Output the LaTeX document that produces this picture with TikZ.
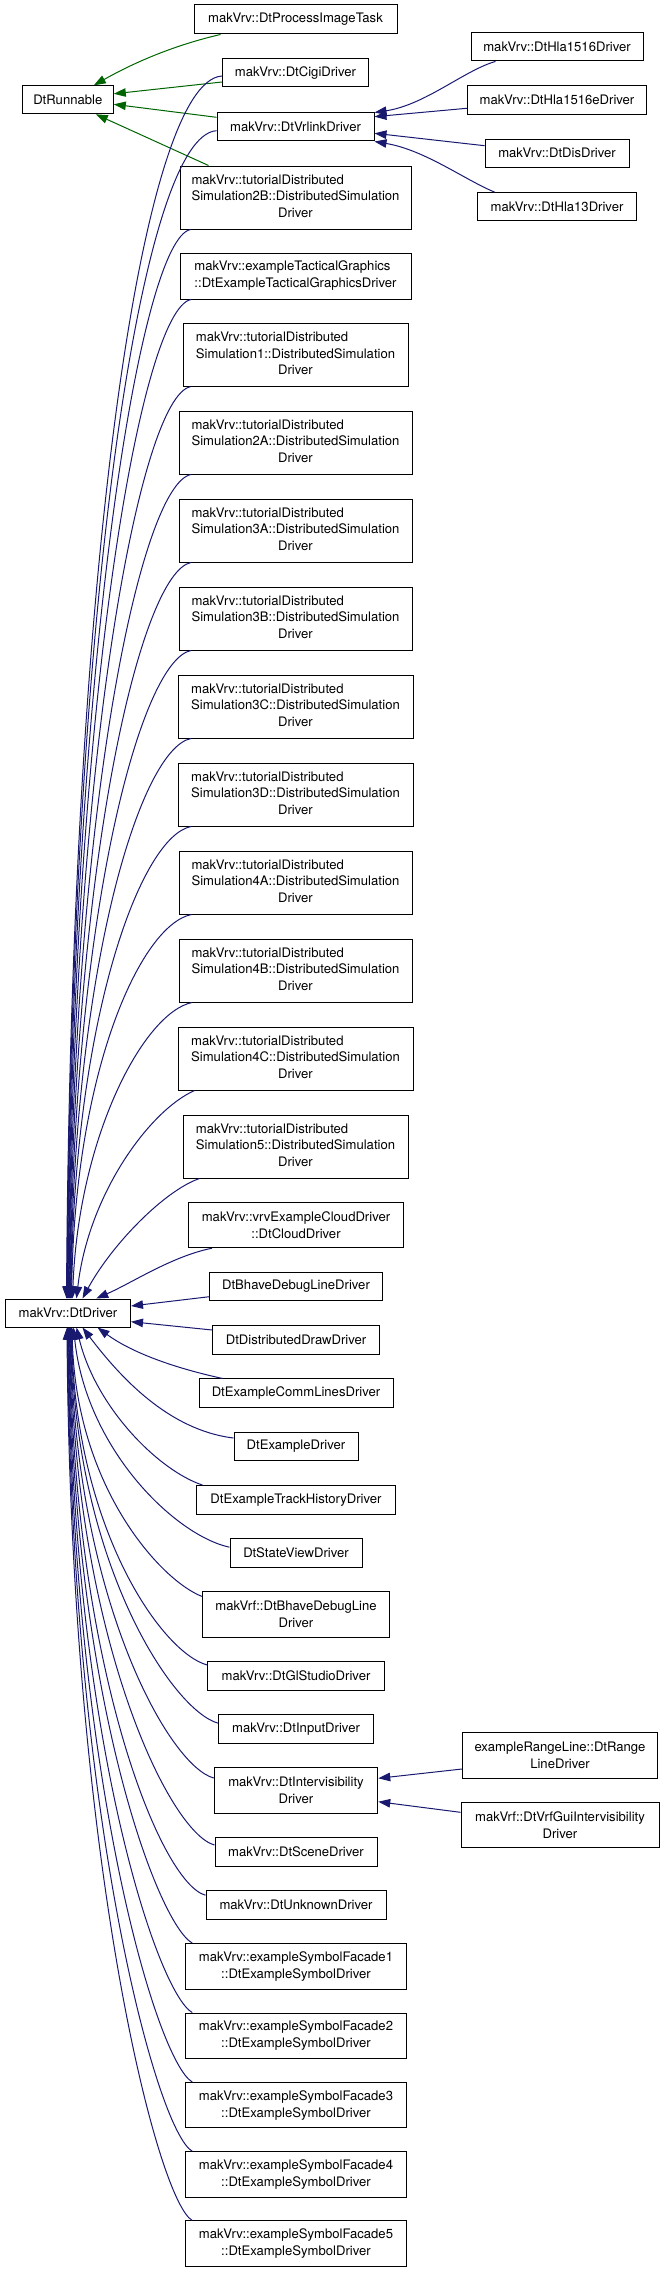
\documentclass[tikz,border=0pt]{standalone}
\usepackage{fontspec}
\setmainfont{TeX Gyre Heros}
\usetikzlibrary{arrows.meta,calc}
\definecolor{dgreen}{RGB}{0,100,0}
\definecolor{mblue}{RGB}{25,25,112}
\newcommand\tutlabel[1]{\begin{tabular}{@{}l@{}}makVrv::tutorialDistributed\\Simulation#1::DistributedSimulation\\\multicolumn{1}{@{}c@{}}{Driver}\end{tabular}}
\newcommand\dedge[5]{\draw[bedge] let \p1=#1, \p2=#2 in (\p1) .. controls ($(\p1)+(#3)$) and ({\x2+#4*(\x1-\x2)},{\y2+#5*(\y1-\y2)}) .. (\p2);}
\begin{document}
\begin{tikzpicture}[x=1pt,y=-1pt,
  box/.style={draw=black, line width=1pt, fill=white, inner sep=0pt,
    font=\fontsize{13.1}{16.8}\selectfont, align=center},
  gedge/.style={draw=dgreen, line width=1pt, -{Triangle[length=12pt,width=8.5pt]}},
  bedge/.style={draw=mblue, line width=1pt, -{Triangle[length=12pt,width=8.5pt]}}]
\useasboundingbox (0,0) rectangle (661,2272);
% left column
\node[box,minimum width=91pt,minimum height=28pt] (run) at (67.8,99.8) {DtRunnable};
\node[box,minimum width=125pt,minimum height=28pt] (drv) at (68,1313) {makVrv::DtDriver};
% middle column
\node[box,minimum width=203pt,minimum height=29pt] (pit) at (295.5,19.5) {makVrv::DtProcessImageTask};
\node[box,minimum width=146pt,minimum height=28pt] (cigi) at (295.5,73) {makVrv::DtCigiDriver};
\node[box,minimum width=157pt,minimum height=28pt] (vrl) at (295.5,127) {makVrv::DtVrlinkDriver};
\node[box,minimum width=231pt,minimum height=63pt] (t2B) at (295.5,197.5) {\tutlabel{2B}};
\node[box,minimum width=231pt,minimum height=46pt] (tac) at (295.5,276) {\begin{tabular}{@{}l@{}}makVrv::exampleTacticalGraphics\\::DtExampleTacticalGraphicsDriver\end{tabular}};
\node[box,minimum width=225pt,minimum height=63pt] (t1) at (295.5,354.7) {\tutlabel{1}};
\node[box,minimum width=233pt,minimum height=63pt] (t2A) at (295.5,442.5) {\tutlabel{2A}};
\node[box,minimum width=233pt,minimum height=63pt] (t3A) at (295.5,530.5) {\tutlabel{3A}};
\node[box,minimum width=233pt,minimum height=63pt] (t3B) at (295.5,618.5) {\tutlabel{3B}};
\node[box,minimum width=235pt,minimum height=63pt] (t3C) at (295.5,706.5) {\tutlabel{3C}};
\node[box,minimum width=235pt,minimum height=63pt] (t3D) at (295.5,794.5) {\tutlabel{3D}};
\node[box,minimum width=233pt,minimum height=63pt] (t4A) at (295.5,882.5) {\tutlabel{4A}};
\node[box,minimum width=233pt,minimum height=63pt] (t4B) at (295.5,970.5) {\tutlabel{4B}};
\node[box,minimum width=235pt,minimum height=63pt] (t4C) at (295.5,1058.5) {\tutlabel{4C}};
\node[box,minimum width=225pt,minimum height=63pt] (t5) at (295.5,1146.5) {\tutlabel{5}};
\node[box,minimum width=215pt,minimum height=45pt] (cloud) at (296,1225.2) {makVrv::vrvExampleCloudDriver\\::DtCloudDriver};
\node[box,minimum width=172.5pt,minimum height=28.5pt] (bhave) at (296,1286.3) {DtBhaveDebugLineDriver};
\node[box,minimum width=166.5pt,minimum height=28.5pt] (ddraw) at (296,1339.8) {DtDistributedDrawDriver};
\node[box,minimum width=194pt,minimum height=28.5pt] (comm) at (296,1393.2) {DtExampleCommLinesDriver};
\node[box,minimum width=124pt,minimum height=28.5pt] (exd) at (296,1446.5) {DtExampleDriver};
\node[box,minimum width=199pt,minimum height=28.5pt] (track) at (296,1499.8) {DtExampleTrackHistoryDriver};
\node[box,minimum width=132pt,minimum height=28.5pt] (state) at (296,1553.2) {DtStateViewDriver};
\node[box,minimum width=186.5pt,minimum height=45.5pt] (vbhave) at (296,1614.5) {makVrf::DtBhaveDebugLine\\Driver};
\node[box,minimum width=176.5pt,minimum height=28.5pt] (gl) at (296,1675.8) {makVrv::DtGlStudioDriver};
\node[box,minimum width=154.5pt,minimum height=28.5pt] (inp) at (296,1729.2) {makVrv::DtInputDriver};
\node[box,minimum width=163.5pt,minimum height=45.5pt] (ivis) at (296,1790.5) {makVrv::DtIntervisibility\\Driver};
\node[box,minimum width=162pt,minimum height=28.5pt] (scene) at (296,1851.8) {makVrv::DtSceneDriver};
\node[box,minimum width=180pt,minimum height=28.5pt] (unk) at (296,1905.2) {makVrv::DtUnknownDriver};
\node[box,minimum width=220.5pt,minimum height=45.5pt] (f1) at (296,1966.3) {makVrv::exampleSymbolFacade1\\::DtExampleSymbolDriver};
\node[box,minimum width=220.5pt,minimum height=45.5pt] (f2) at (296,2035.8) {makVrv::exampleSymbolFacade2\\::DtExampleSymbolDriver};
\node[box,minimum width=220.5pt,minimum height=45.5pt] (f3) at (296,2105.2) {makVrv::exampleSymbolFacade3\\::DtExampleSymbolDriver};
\node[box,minimum width=220.5pt,minimum height=45.5pt] (f4) at (296,2174.5) {makVrv::exampleSymbolFacade4\\::DtExampleSymbolDriver};
\node[box,minimum width=220.5pt,minimum height=45.5pt] (f5) at (296,2243.7) {makVrv::exampleSymbolFacade5\\::DtExampleSymbolDriver};
% right column
\node[box,minimum width=172pt,minimum height=28.5pt] (h1516) at (557,46.7) {makVrv::DtHla1516Driver};
\node[box,minimum width=179.4pt,minimum height=28.5pt] (h1516e) at (557,99.8) {makVrv::DtHla1516eDriver};
\node[box,minimum width=144pt,minimum height=28pt] (dis) at (557,153.3) {makVrv::DtDisDriver};
\node[box,minimum width=159.4pt,minimum height=28pt] (h13) at (557,206.7) {makVrv::DtHla13Driver};
\node[box,minimum width=195.3pt,minimum height=45.5pt] (range) at (560,1755.5) {exampleRangeLine::DtRange\\LineDriver};
\node[box,minimum width=198pt,minimum height=45.5pt] (vgui) at (560,1825) {makVrf::DtVrfGuiIntervisibility\\Driver};
% green edges to DtRunnable
\draw[gedge] ([xshift=27pt]pit.south west) .. controls (175,45) and (135,62) .. ([xshift=72pt]run.north west);
\draw[gedge] ([yshift=-9pt]cigi.west) -- ([yshift=6pt]run.east);
\draw[gedge] ([yshift=9.7pt]vrl.west) -- ([yshift=-4.5pt]run.east);
\draw[gedge] ([xshift=29pt]t2B.north west) -- ([xshift=74pt]run.south west);
% edges to DtVrlinkDriver
\draw[bedge] ([xshift=25pt]h1516.south west) .. controls (465,70) and (425,105) .. (vrl.north east);
\draw[bedge] ([yshift=-8.5pt]h1516e.west) -- ([yshift=10.3pt]vrl.east);
\draw[bedge] ([yshift=7.6pt]dis.west) -- ([yshift=-6.3pt]vrl.east);
\draw[bedge] ([xshift=18pt]h13.north west) .. controls (465,180) and (425,150) .. (vrl.south east);
% edges to DtIntervisibilityDriver
\draw[bedge] ([yshift=-13.5pt]range.west) -- ([yshift=12.2pt]ivis.east);
\draw[bedge] ([yshift=12.7pt]vgui.west) -- ([yshift=-11.2pt]ivis.east);
% edges to DtDriver, right side
\draw[bedge] ([yshift=-10.4pt]bhave.west) -- ([yshift=7pt]drv.east);
\draw[bedge] ([yshift=9.8pt]ddraw.west) -- ([yshift=-8.7pt]drv.east);
% edges to DtDriver from above
\dedge{([yshift=-3pt]cigi.west)}{([xshift=61.5pt]drv.north west)}{-80,5}{0.03}{0.6}
\dedge{([yshift=-3.7pt]vrl.west)}{([xshift=62pt]drv.north west)}{-75,5}{0.03}{0.6}
\dedge{([xshift=11pt]t2B.south west)}{([xshift=62.5pt]drv.north west)}{-50,10}{0.03}{0.6}
\dedge{([xshift=11.5pt]tac.south west)}{([xshift=63pt]drv.north west)}{-50,10}{0.03}{0.6}
\dedge{([xshift=8pt]t1.south west)}{([xshift=63.5pt]drv.north west)}{-50,10}{0.03}{0.6}
\dedge{([xshift=12.5pt]t2A.south west)}{([xshift=64pt]drv.north west)}{-50,10}{0.03}{0.6}
\dedge{([xshift=12.5pt]t3A.south west)}{([xshift=64.5pt]drv.north west)}{-50,10}{0.03}{0.6}
\dedge{([xshift=12.5pt]t3B.south west)}{([xshift=65pt]drv.north west)}{-50,10}{0.03}{0.6}
\dedge{([xshift=13.5pt]t3C.south west)}{([xshift=65.5pt]drv.north west)}{-50,10}{0.03}{0.6}
\dedge{([xshift=13.5pt]t3D.south west)}{([xshift=66pt]drv.north west)}{-50,10}{0.03}{0.6}
\dedge{([xshift=13pt]t4A.south west)}{([xshift=66.5pt]drv.north west)}{-50,10}{0.03}{0.6}
\dedge{([xshift=13.5pt]t4B.south west)}{([xshift=67.5pt]drv.north west)}{-48,10}{0.05}{0.55}
\dedge{([xshift=17pt]t4C.south west)}{([xshift=71.5pt]drv.north west)}{-45,20}{0.1}{0.5}
\dedge{([xshift=17pt]t5.south west)}{([xshift=77.5pt]drv.north west)}{-35,12}{0.25}{0.45}
\dedge{([xshift=24pt]cloud.south west)}{([xshift=91.2pt]drv.north west)}{-40,8}{0.3}{0.3}
% edges to DtDriver from below
\dedge{([xshift=24pt]comm.north west)}{([xshift=92.5pt]drv.south west)}{-55,-12}{0.25}{0.45}
\dedge{([yshift=8.5pt]exd.west)}{([xshift=77.5pt]drv.south west)}{-65,-8}{0.25}{0.45}
\dedge{([xshift=6.5pt]track.north west)}{([xshift=71.5pt]drv.south west)}{-45,-15}{0.15}{0.5}
\dedge{([yshift=6pt]state.west)}{([xshift=68.5pt]drv.south west)}{-55,-12}{0.08}{0.55}
\dedge{([yshift=18pt]vbhave.west)}{([xshift=67pt]drv.south west)}{-40,-15}{0.03}{0.6}
\dedge{([yshift=10.8pt]gl.west)}{([xshift=66.5pt]drv.south west)}{-45,-12}{0.03}{0.6}
\dedge{([yshift=6pt]inp.west)}{([xshift=66pt]drv.south west)}{-45,-12}{0.03}{0.6}
\dedge{([yshift=12.5pt]ivis.west)}{([xshift=65.5pt]drv.south west)}{-45,-12}{0.03}{0.6}
\dedge{([yshift=6.8pt]scene.west)}{([xshift=65pt]drv.south west)}{-45,-12}{0.03}{0.6}
\dedge{([yshift=10pt]unk.west)}{([xshift=64.5pt]drv.south west)}{-45,-12}{0.03}{0.6}
\dedge{([xshift=7pt]f1.north west)}{([xshift=64pt]drv.south west)}{-35,-20}{0.03}{0.6}
\dedge{([xshift=7pt]f2.north west)}{([xshift=63.5pt]drv.south west)}{-35,-20}{0.03}{0.6}
\dedge{([xshift=7pt]f3.north west)}{([xshift=63pt]drv.south west)}{-35,-20}{0.03}{0.6}
\dedge{([xshift=7pt]f4.north west)}{([xshift=62.5pt]drv.south west)}{-35,-20}{0.03}{0.6}
\dedge{([xshift=7pt]f5.north west)}{([xshift=62pt]drv.south west)}{-35,-20}{0.03}{0.6}
\end{tikzpicture}
\end{document}
